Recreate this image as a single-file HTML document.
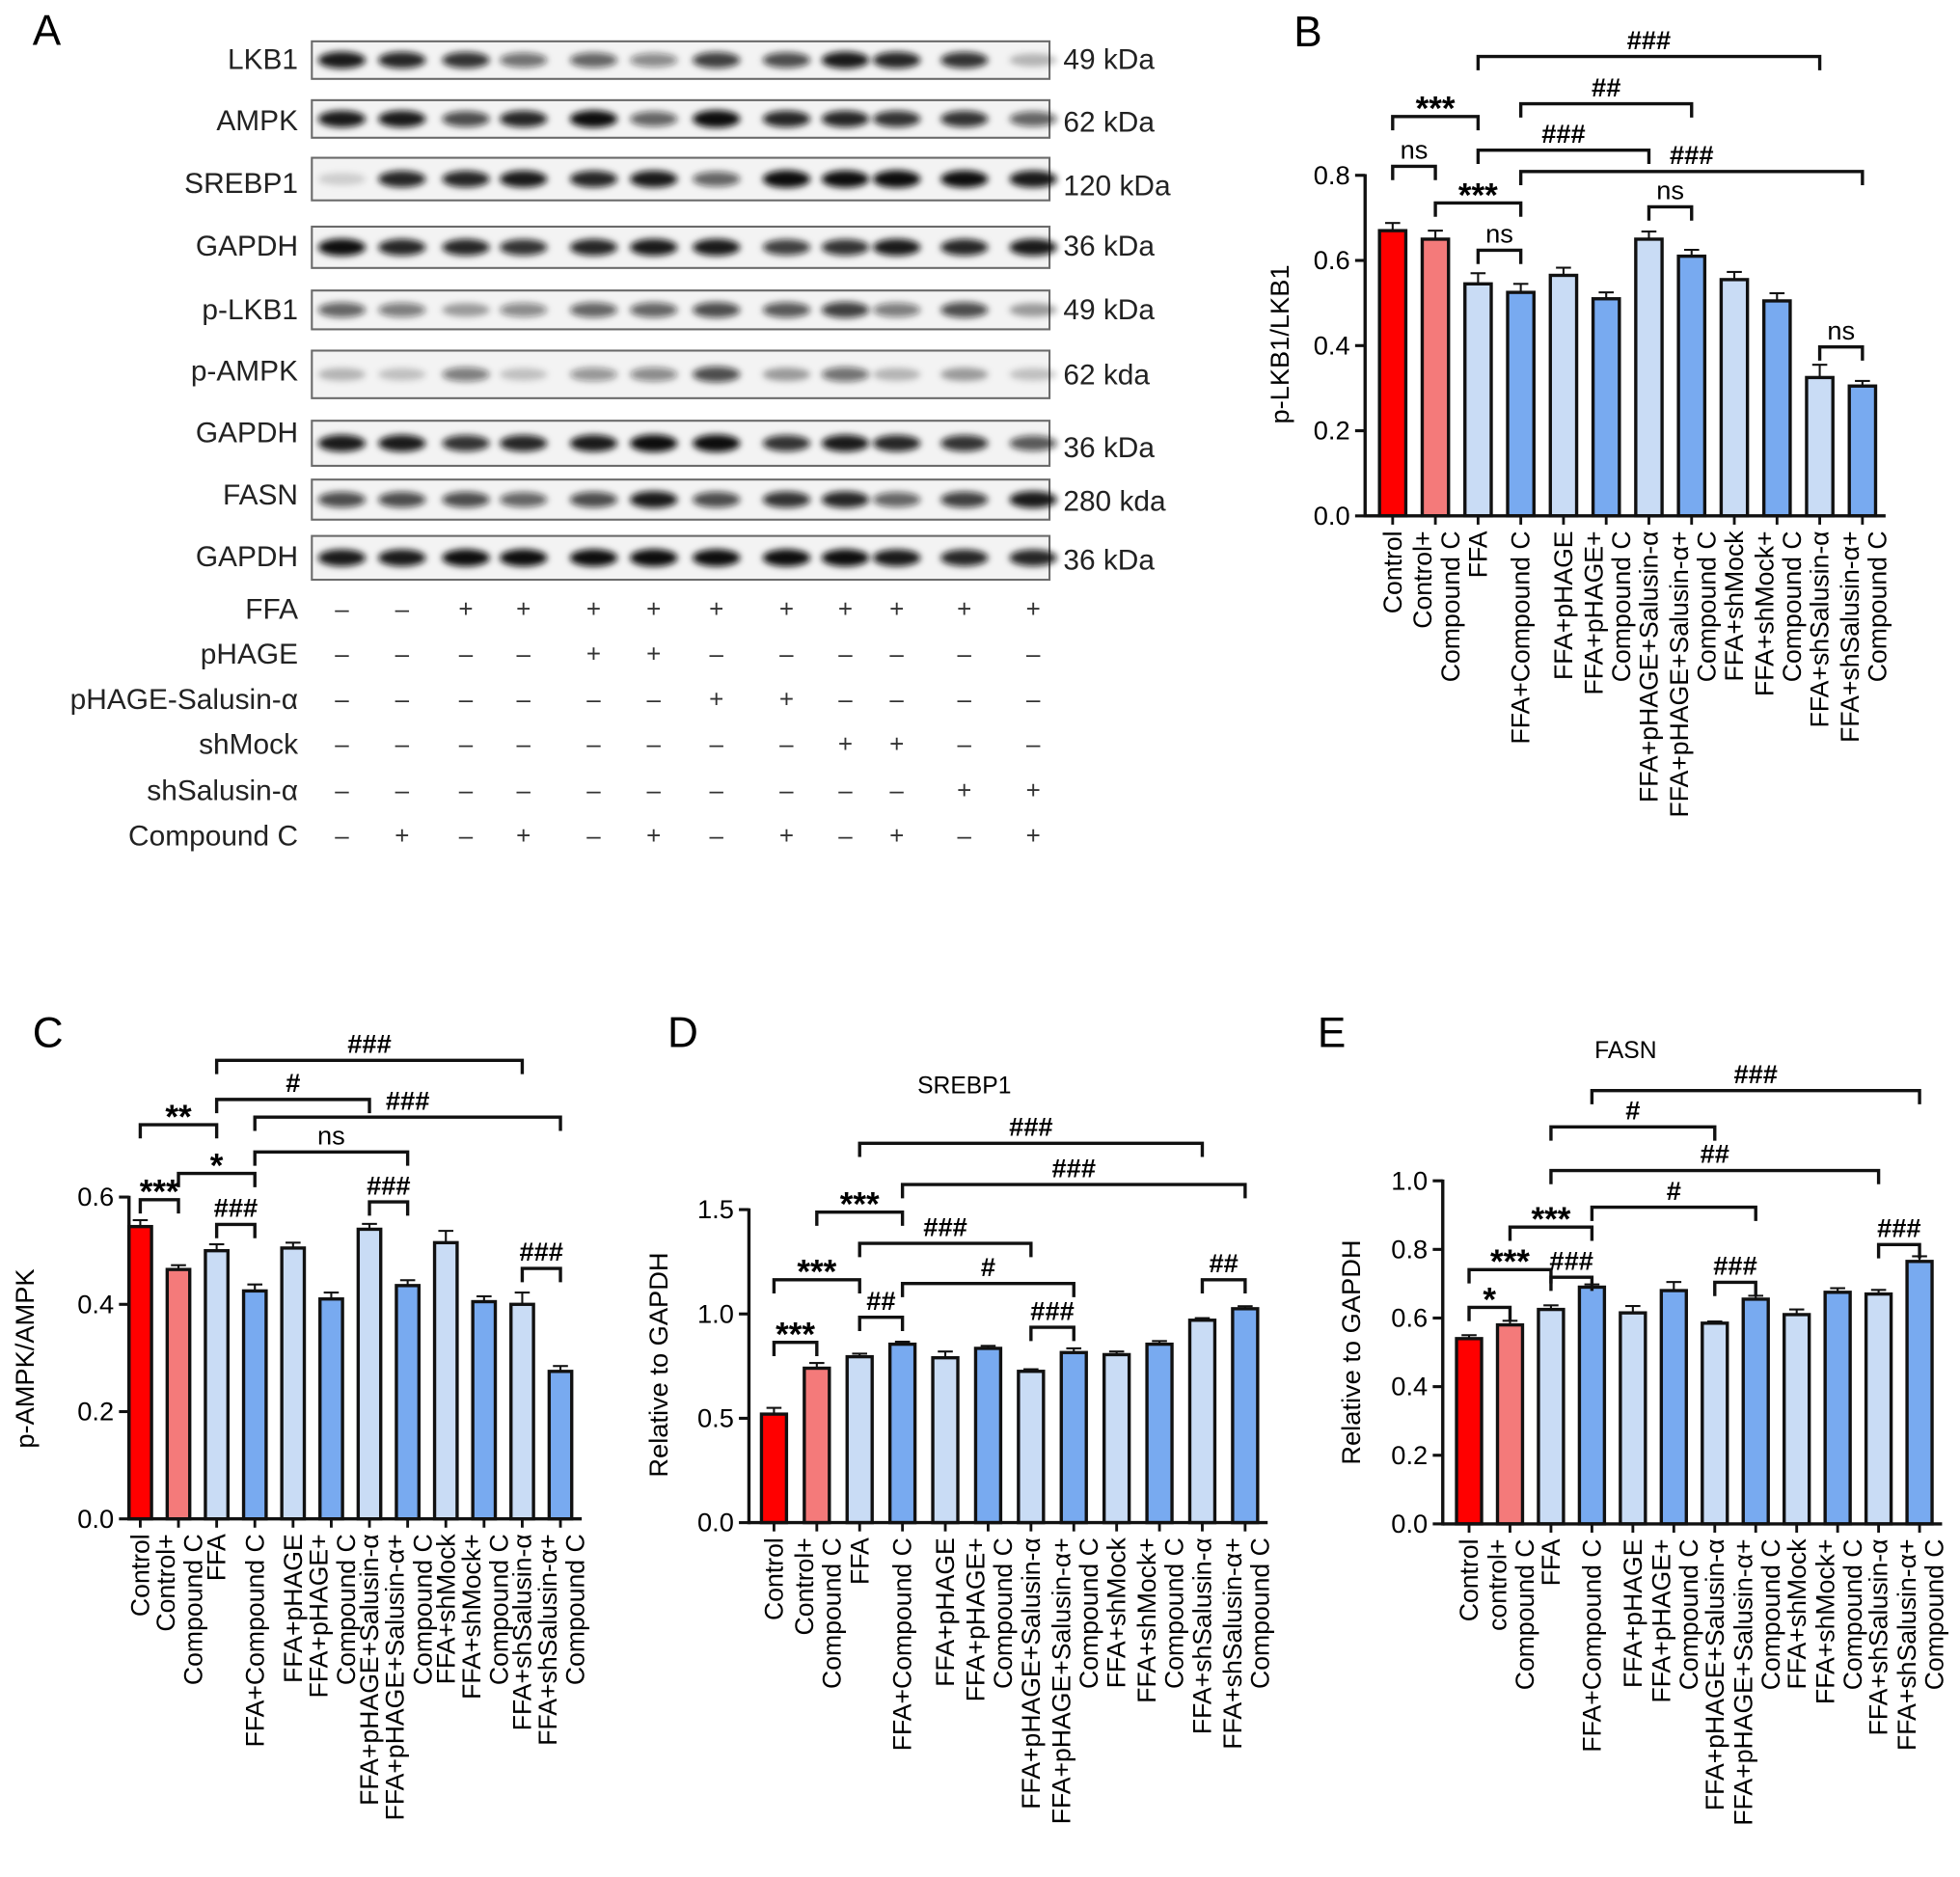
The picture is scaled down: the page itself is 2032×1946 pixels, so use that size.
<!DOCTYPE html>
<html><head><meta charset="utf-8"><style>
html,body{margin:0;padding:0;background:#fff;}
svg{display:block;font-family:"Liberation Sans",Arial,sans-serif;}
</style></head><body>
<svg id="fig" xmlns="http://www.w3.org/2000/svg" width="2032" height="1946" viewBox="0 0 1565 1499" preserveAspectRatio="none">
<defs><filter id="blur" x="-20%" y="-50%" width="140%" height="200%"><feGaussianBlur stdDeviation="2.6"/></filter></defs>
<g id="panelA"></g>
<g id="charts"></g>
</svg>
<script>
const NS="http://www.w3.org/2000/svg";
const svg=document.getElementById('fig');
function mk(tag,attrs,parent,text){const e=document.createElementNS(NS,tag);for(const k in attrs)e.setAttribute(k,attrs[k]);if(text!==undefined)e.textContent=text;(parent||svg).appendChild(e);return e;}

/* ---------- Panel A data ---------- */
const laneX=[273,321,372,418,474,522,572,628,675,716,770,825];
const blotNames=["LKB1","AMPK","SREBP1","GAPDH","p-LKB1","p-AMPK","GAPDH","FASN","GAPDH"];
const blotSizes=["49 kDa","62 kDa","120 kDa","36 kDa","49 kDa","62 kda","36 kDa","280 kda","36 kDa"];
const blotIntensity=[
[.9,.85,.8,.55,.6,.45,.75,.7,.9,.85,.8,.25],
[.9,.9,.7,.85,.95,.6,1,.85,.85,.8,.8,.6],
[.15,.85,.85,.9,.85,.9,.6,1,.95,1,.95,.9],
[.95,.85,.85,.8,.85,.9,.9,.75,.8,.9,.85,.9],
[.6,.5,.35,.45,.6,.6,.7,.65,.75,.5,.7,.35],
[.25,.2,.5,.2,.4,.45,.7,.35,.55,.25,.35,.2],
[.9,.9,.8,.85,.9,1,1,.8,.9,.85,.8,.65],
[.7,.7,.7,.6,.7,.9,.7,.8,.85,.6,.75,.9],
[.9,.9,.95,.95,.95,1,.95,.95,.95,.9,.85,.85]];
const treatNames=["FFA","pHAGE","pHAGE-Salusin-α","shMock","shSalusin-α","Compound C"];
const treatSigns=[
"--++++++++++",
"----++------",
"------++----",
"--------++--",
"----------++",
"-+-+-+-+-+-+"];
/* layout (not data) */
const blotBox=[[33,63],[80,110],[126,160],[181,214],[232,263],[280,318],[336,372],[383,415],[428,463]];
const blotLabelY=[47,96,146,196,247,296,345,395,444];
const sizeLabelY=[47,97,148,196,247,299,357,400,447];
const treatY=[486,522,558,594,631,667];

const A=document.getElementById('panelA');
mk('text',{x:26,y:36,'font-size':34,},A,'A');
blotNames.forEach((n,r)=>{
  const g=mk('g',{},A);
  
  
  const [t,b]=blotBox[r];
  mk('rect',{x:249,y:t,width:589,height:b-t,fill:'#f3f3f3',stroke:'#6a6a6a','stroke-width':1.6},g);
  const cy=(t+b)/2;
  blotIntensity[r].forEach((v,i)=>{
    const band=mk('ellipse',{cx:laneX[i],cy:cy,rx:19,ry:4.5+v*2.5,fill:'#111','fill-opacity':Math.min(1,v*1.05),filter:'url(#blur)'},g);
    
    
  });
  mk('text',{x:238,y:blotLabelY[r]+8,'font-size':23,'text-anchor':'end',fill:'#222'},g,n);
  mk('text',{x:849,y:sizeLabelY[r]+8,'font-size':23,fill:'#222'},g,blotSizes[r]);
});
treatNames.forEach((n,r)=>{
  const g=mk('g',{},A);
  
  
  mk('text',{x:238,y:treatY[r]+8,'font-size':23,'text-anchor':'end',fill:'#222'},g,n);
  treatSigns[r].split('').forEach((s,i)=>{
    mk('text',{x:laneX[i],y:treatY[r]+7,'font-size':20,'text-anchor':'middle',fill:'#333'},g,s==='+'?'+':'–');
  });
});

/* ---------- Bar chart data ---------- */
const groups=[["Control"],["Control+","Compound C"],["FFA"],["FFA+Compound C"],["FFA+pHAGE"],["FFA+pHAGE+","Compound C"],["FFA+pHAGE+Salusin-α"],["FFA+pHAGE+Salusin-α+","Compound C"],["FFA+shMock"],["FFA+shMock+","Compound C"],["FFA+shSalusin-α"],["FFA+shSalusin-α+","Compound C"]];
const groupsE=groups.map((g,i)=>i===1?["control+","Compound C"]:g);
const barColors=["#ff0000","#f47a7a","#c9dcf5","#78aaf0","#c9dcf5","#78aaf0","#c9dcf5","#78aaf0","#c9dcf5","#78aaf0","#c9dcf5","#78aaf0"];

const valuesB=[0.67,0.65,0.545,0.525,0.565,0.51,0.65,0.61,0.555,0.505,0.325,0.305];
const errorsB=[0.018,0.02,0.025,0.02,0.018,0.015,0.018,0.015,0.018,0.018,0.03,0.012];
const ticksB=[0,0.2,0.4,0.6,0.8];
const bracketsB=[[0,2,0.938,"***"],[0,1,0.821,"ns"],[2,10,1.079,"###"],[3,7,0.968,"##"],[2,6,0.859,"###"],[3,11,0.809,"###"],[1,3,0.735,"***"],[2,3,0.624,"ns"],[6,7,0.726,"ns"],[10,11,0.397,"ns"]];

const valuesC=[0.545,0.465,0.5,0.425,0.505,0.41,0.54,0.435,0.515,0.405,0.4,0.275];
const errorsC=[0.012,0.008,0.012,0.012,0.01,0.012,0.01,0.01,0.022,0.01,0.022,0.01];
const ticksC=[0,0.2,0.4,0.6];
const bracketsC=[[2,10,0.855,"###"],[2,6,0.782,"#"],[3,11,0.749,"###"],[0,2,0.735,"**"],[3,7,0.684,"ns"],[1,3,0.644,"*"],[0,1,0.595,"***"],[2,3,0.549,"###"],[6,7,0.591,"###"],[10,11,0.467,"###"]];

const valuesD=[0.52,0.74,0.795,0.855,0.79,0.835,0.725,0.815,0.805,0.855,0.97,1.025];
const errorsD=[0.03,0.025,0.015,0.012,0.03,0.012,0.01,0.02,0.015,0.015,0.01,0.012];
const ticksD=[0,0.5,1.0,1.5];
const bracketsD=[[2,10,1.818,"###"],[3,11,1.62,"###"],[1,3,1.488,"***"],[2,6,1.338,"###"],[0,2,1.164,"***"],[3,7,1.146,"#"],[2,3,0.984,"##"],[6,7,0.936,"###"],[0,1,0.864,"***"],[10,11,1.164,"##"]];

const valuesE=[0.54,0.58,0.625,0.69,0.615,0.68,0.585,0.655,0.61,0.675,0.67,0.765];
const errorsE=[0.01,0.012,0.012,0.008,0.02,0.025,0.005,0.01,0.015,0.012,0.012,0.015];
const ticksE=[0,0.2,0.4,0.6,0.8,1.0];
const bracketsE=[[3,11,1.263,"###"],[2,6,1.157,"#"],[2,10,1.03,"##"],[3,7,0.923,"#"],[1,3,0.865,"***"],[0,2,0.741,"***"],[2,3,0.719,"###"],[6,7,0.704,"###"],[0,1,0.631,"*"],[10,11,0.814,"###"]];

/* ---------- chart drawing ---------- */
function chart(cfg){
  const g=mk('g',{},svg);
  
  
  const yS=v=>cfg.y0-(v-0)/(cfg.vTop)*(cfg.y0-cfg.yTop);
  const xS=i=>cfg.x0+i*cfg.step;
  const bw=cfg.bw;
  const pl=mk('text',{x:cfg.letter[1],y:cfg.letter[2],'font-size':34},g,cfg.letter[0]);
  
  
  if(cfg.title){const t=mk('text',{x:cfg.title[1],y:cfg.title[2],'font-size':19,'text-anchor':'middle'},g,cfg.title[0]);
    }
  cfg.values.forEach((v,i)=>{
    const x=xS(i),yt=yS(v),e=cfg.errors[i];
    const r=mk('rect',{x:x-bw/2,y:yt,width:bw,height:cfg.y0-yt,fill:barColors[i],stroke:'#111','stroke-width':2.6},g);
    
    
    const ye=yS(v+e);
    mk('line',{x1:x,x2:x,y1:yt,y2:ye,stroke:'#111','stroke-width':1.6},g);
    mk('line',{x1:x-6,x2:x+6,y1:ye,y2:ye,stroke:'#111','stroke-width':1.6},g);
  });
  const ya=mk('line',{x1:cfg.axX,x2:cfg.axX,y1:yS(cfg.ticks[cfg.ticks.length-1])-1,y2:cfg.y0+1.3,stroke:'#111','stroke-width':2.6},g);
  
  const xa=mk('line',{x1:cfg.axX,x2:xS(11)+bw/2+8,y1:cfg.y0,y2:cfg.y0,stroke:'#111','stroke-width':2.6},g);
  
  cfg.ticks.forEach(t=>{
    const y=yS(t);
    mk('line',{x1:cfg.axX-8,x2:cfg.axX,y1:y,y2:y,stroke:'#111','stroke-width':2.4},g);
    const tl=mk('text',{x:cfg.axX-12,y:y+7,'font-size':21,'text-anchor':'end'},g,t.toFixed(1));
    
  });
  cfg.values.forEach((v,i)=>{
    const x=xS(i);
    mk('line',{x1:x,x2:x,y1:cfg.y0,y2:cfg.y0+7,stroke:'#111','stroke-width':2.2},g);
    const lines=cfg.labels[i];
    lines.forEach((s,k)=>{
      const lx=lines.length===1? x+7 : x-3+k*22;
      const tx=mk('text',{x:0,y:0,'font-size':20.5,'text-anchor':'end',transform:`translate(${lx},${cfg.y0+12}) rotate(-90)`},g,s);
      
    });
  });
  const yl=mk('text',{x:0,y:0,'font-size':21,'text-anchor':'middle',transform:`translate(${cfg.yTitle[1]},${cfg.yTitle[2]}) rotate(-90)`},g,cfg.yTitle[0]);
  
  cfg.brackets.forEach(b=>{
    const [i,j,v,lab]=b;
    const x1=xS(i),x2=xS(j),y=yS(v);
    const bg=mk('g',{},g);
    
    
    mk('path',{d:`M${x1},${y+11}V${y}H${x2}V${y+11}`,fill:'none',stroke:'#111','stroke-width':2.6},bg);
    const star=lab.indexOf('*')>=0, hash=lab.indexOf('#')>=0;
    mk('text',{x:(x1+x2)/2,y:star?y+3:y-6,'font-size':star?27:(hash?21:21),'font-weight':(star||hash)?'bold':'normal','text-anchor':'middle'},bg,lab);
  });
}

chart({name:'panel-b-p-lkb1-chart',letter:['B',1033,37],values:valuesB,errors:errorsB,ticks:ticksB,brackets:bracketsB,labels:groups,
  axX:1090,y0:412,yTop:140,vTop:0.8,x0:1112,step:34.1,bw:21,yTitle:['p-LKB1/LKB1',1029,275]});
chart({name:'panel-c-p-ampk-chart',letter:['C',26,836],values:valuesC,errors:errorsC,ticks:ticksC,brackets:bracketsC,labels:groups,
  axX:103,y0:1213,yTop:956,vTop:0.6,x0:112,step:30.5,bw:18,yTitle:['p-AMPK/AMPK',27,1085]});
chart({name:'panel-d-srebp1-chart',letter:['D',533,836],title:['SREBP1',770,873],values:valuesD,errors:errorsD,ticks:ticksD,brackets:bracketsD,labels:groups,
  axX:598,y0:1216,yTop:966,vTop:1.5,x0:618,step:34.2,bw:20,yTitle:['Relative to GAPDH',533,1090]});
chart({name:'panel-e-fasn-chart',letter:['E',1052,836],title:['FASN',1298,845],values:valuesE,errors:errorsE,ticks:ticksE,brackets:bracketsE,labels:groupsE,
  axX:1152,y0:1217,yTop:943,vTop:1.0,x0:1173,step:32.7,bw:20,yTitle:['Relative to GAPDH',1086,1080]});
</script>
</body></html>
